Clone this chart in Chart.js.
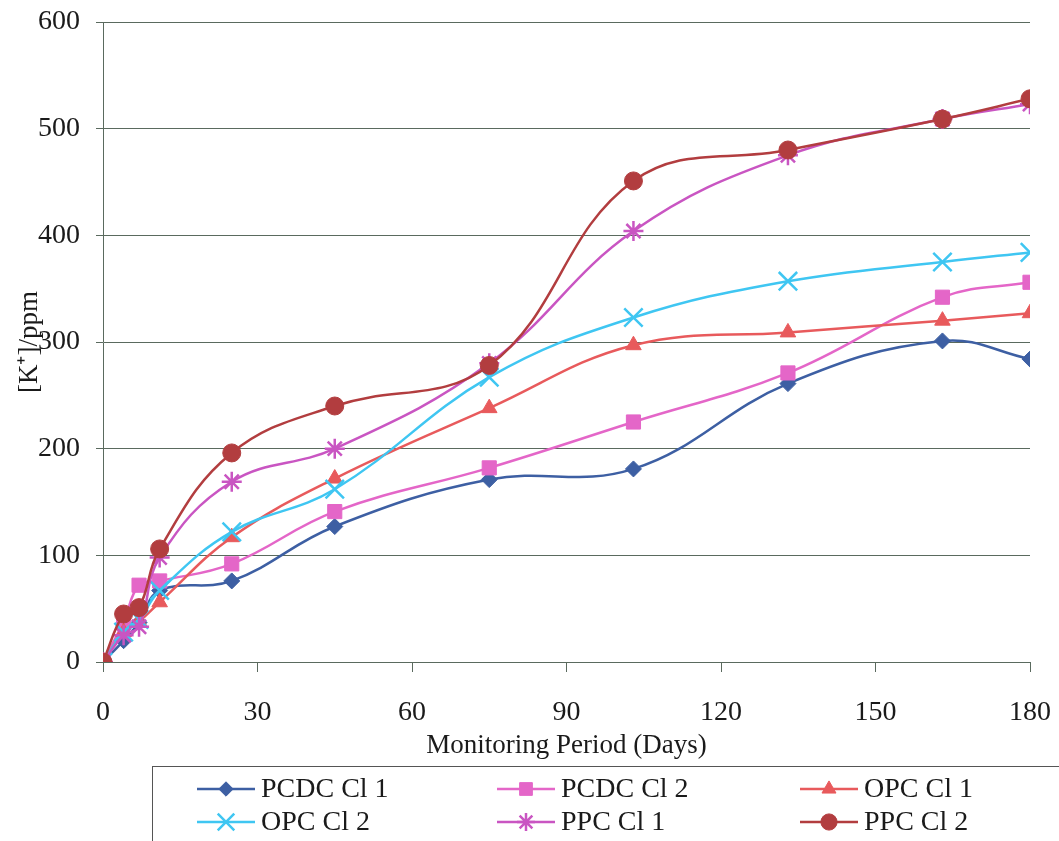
<!DOCTYPE html>
<html>
<head>
<meta charset="utf-8">
<script src="https://cdn.jsdelivr.net/npm/chart.js@4/dist/chart.umd.min.js"></script>
<style>
  body { margin: 0; background: #ffffff; }
  #grafico { display: block; }
</style>
</head>
<body>
<canvas id="grafico" width="1059" height="841"></canvas>
<script>
// dados
const dias = [0, 4, 7, 11, 25, 45, 75, 103, 133, 163, 180];
const pcdcCl1 = [0, 20, 37, 67, 76, 127, 171, 181, 261, 301, 284];
const pcdcCl2 = [0, 38, 72, 76, 92, 141, 182, 225, 271, 342, 356];
const opcCl1 = [0, 28, 38, 56, 117, 172, 238, 297, 309, 320, 327];
const opcCl2 = [0, 28, 40, 67, 122, 162, 267, 323, 357, 375, 384];
const ppcCl1 = [0, 25, 33, 98, 169, 200, 280, 404, 475, 509, 523];
const ppcCl2 = [0, 45, 51, 106, 196, 240, 278, 451, 480, 509, 528];
const nomes = ['PCDC Cl 1', 'PCDC Cl 2', 'OPC Cl 1', 'OPC Cl 2', 'PPC Cl 1', 'PPC Cl 2'];

const series = [pcdcCl1, pcdcCl2, opcCl1, opcCl2, ppcCl1, ppcCl2];
const cores = ['#3d5fa3', '#e466c8', '#e85a5c', '#3fc6f2', '#c955c2', '#b23d3f'];
const marcadores = ['rectRot', 'rect', 'triangle', 'crossRot', 'star', 'circle'];
const raios = [8, 10, 9, 13, 10, 9];
const fonte = 'Liberation Serif, Times New Roman, serif';

const datasets = series.map((s, i) => ({
    label: nomes[i],
    data: dias.map((d, j) => ({ x: d, y: s[j] })),
    borderColor: cores[i],
    backgroundColor: cores[i],
    borderWidth: 2.5,
    tension: 0.4,
    pointStyle: marcadores[i],
    pointRadius: raios[i],
    pointBorderWidth: (marcadores[i] === 'crossRot' || marcadores[i] === 'star') ? 2.5 : 1,
    pointBackgroundColor: cores[i],
    pointBorderColor: cores[i],
    order: 6 - i
}));

// legenda desenhada em caixa, como no original
const legendaCaixa = {
    id: 'legendaCaixa',
    afterDraw(chart) {
        const ctx = chart.ctx;
        ctx.save();
        ctx.strokeStyle = '#555';
        ctx.lineWidth = 1;
        ctx.strokeRect(152.5, 766.5, 1000, 200);
        const colunas = [197, 497, 800];
        const linhas = [789, 822];
        ctx.font = '28px ' + fonte;
        ctx.textBaseline = 'middle';
        ctx.fillStyle = '#1a1a1a';
        nomes.forEach((nome, i) => {
            const x = colunas[i % 3];
            const y = linhas[Math.floor(i / 3)];
            ctx.strokeStyle = cores[i];
            ctx.lineWidth = 2.5;
            ctx.beginPath();
            ctx.moveTo(x, y);
            ctx.lineTo(x + 58, y);
            ctx.stroke();
            ctx.fillStyle = cores[i];
            ctx.lineWidth = (marcadores[i] === 'crossRot' || marcadores[i] === 'star') ? 2.5 : 1;
            Chart.helpers.drawPoint(ctx, { pointStyle: marcadores[i], radius: raios[i] * 0.9, rotation: 0, borderWidth: 1 }, x + 29, y);
            ctx.fillStyle = '#1a1a1a';
            ctx.fillText(nome, x + 64, y + 1);
        });
        ctx.restore();
    }
};

new Chart(document.getElementById('grafico').getContext('2d'), {
    type: 'line',
    data: { datasets: datasets },
    options: {
        responsive: false,
        animation: false,
        layout: { padding: { top: 22, right: 29, bottom: 79, left: 0 } },
        plugins: {
            legend: { display: false },
            tooltip: { enabled: false }
        },
        scales: {
            x: {
                type: 'linear',
                min: 0,
                max: 180,
                afterFit: s => { s.height = 100; s.paddingLeft = 0; s.paddingRight = 0; },
                ticks: { stepSize: 30, color: '#1a1a1a', font: { family: fonte, size: 28 }, padding: 24, maxRotation: 0 },
                grid: { drawOnChartArea: false, drawTicks: true, tickLength: 10, color: '#5a6a5e' },
                border: { color: '#5a6a5e', width: 1 },
                title: { display: true, text: 'Monitoring Period (Days)', color: '#1a1a1a', font: { family: fonte, size: 27 }, padding: 0 }
            },
            y: {
                min: 0,
                max: 600,
                afterFit: s => { s.width = 103; s.paddingTop = 0; s.paddingBottom = 0; },
                ticks: { stepSize: 100, color: '#1a1a1a', font: { family: fonte, size: 28 }, padding: 16 },
                grid: { color: '#5a6a5e', lineWidth: 1, tickLength: 7 },
                border: { color: '#5a6a5e', width: 1 },
                title: { display: true, text: '[K\u207A]/ppm', color: '#1a1a1a', font: { family: fonte, size: 27 }, padding: { top: 14, bottom: 0 } }
            }
        }
    },
    plugins: [legendaCaixa]
});
</script>
</body>
</html>
